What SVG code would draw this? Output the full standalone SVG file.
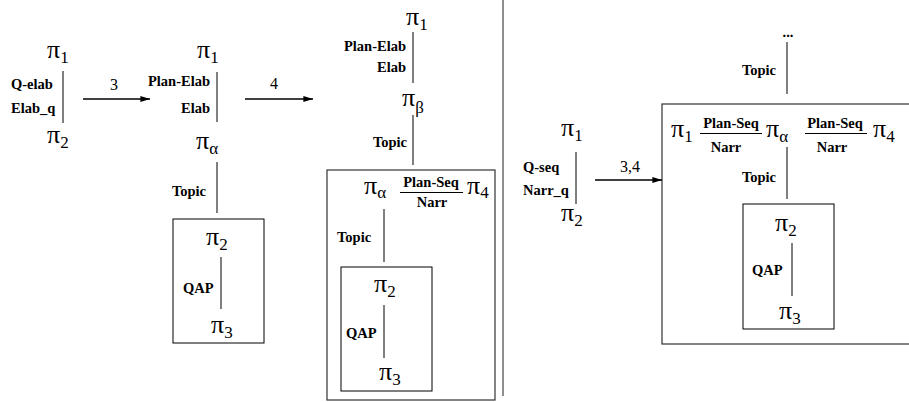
<svg xmlns="http://www.w3.org/2000/svg" width="909" height="402" viewBox="0 0 909 402">
<style>
text{font-family:"Liberation Serif","Times New Roman",serif;fill:#000}
.pi{font-size:26px}
.sub{font-size:17px}
.lb{font-size:14.5px;font-weight:bold}
.num{font-size:16px}
.e{stroke:#000;stroke-width:1;fill:none}
.arr{stroke:#000;stroke-width:1.6;fill:none;marker-end:url(#ah)}
.box{stroke:#333;stroke-width:1.2;fill:none}
.ibox{stroke:#000;stroke-width:1;fill:none}
.end{text-anchor:end}
.mid{text-anchor:middle}
</style>
<defs>
<marker id="ah" viewBox="0 0 10 6" refX="10" refY="3" markerWidth="6" markerHeight="4" markerUnits="strokeWidth" orient="auto">
<path d="M0,0 L10,3 L0,6 z" fill="#000"/>
</marker>
</defs>
<rect width="909" height="402" fill="#fff"/>

<!-- Stage 1 -->
<g id="s1-pi1"><text class="pi" x="47" y="58">π<tspan class="sub" dy="5">1</tspan></text></g>
<g id="s1-pi2"><text class="pi" x="47" y="143">π<tspan class="sub" dy="5">2</tspan></text></g>

<!-- Stage 2 -->
<g id="s2-pi1"><text class="pi" x="197" y="58">π<tspan class="sub" dy="5">1</tspan></text></g>
<g id="s2-pialpha"><text class="pi" x="196" y="149">π<tspan class="sub" dy="5">α</tspan></text></g>
<g id="s2-box"><rect class="ibox" x="173" y="219" width="91" height="124"/>
<text class="pi" x="206" y="245">π<tspan class="sub" dy="5">2</tspan></text>
<text class="pi" x="211" y="333">π<tspan class="sub" dy="5">3</tspan></text></g>

<!-- Stage 3 -->
<g id="s3-pi1"><text class="pi" x="406" y="25">π<tspan class="sub" dy="5">1</tspan></text></g>
<g id="s3-pibeta"><text class="pi" x="402" y="106">π<tspan class="sub" dy="7">β</tspan></text></g>
<g id="s3-outer"><rect class="box" x="327" y="170" width="168" height="230"/>
<text class="pi" x="364" y="194">π<tspan class="sub" dy="4">α</tspan></text>
<text class="pi" x="467" y="194">π<tspan class="sub" dy="4">4</tspan></text></g>
<g id="s3-inner"><rect class="ibox" x="341" y="267" width="91" height="124"/>
<text class="pi" x="374" y="292">π<tspan class="sub" dy="5">2</tspan></text>
<text class="pi" x="379" y="380">π<tspan class="sub" dy="5">3</tspan></text></g>

<!-- Separator -->
<line x1="503" y1="0" x2="503" y2="396" stroke="#444" stroke-width="1.2"/>

<!-- Stage 4 -->
<g id="s4-pi1"><text class="pi" x="561" y="136">π<tspan class="sub" dy="5">1</tspan></text></g>
<g id="s4-pi2"><text class="pi" x="561" y="221">π<tspan class="sub" dy="5">2</tspan></text></g>

<!-- Stage 5 -->
<g id="s5-dots"><text class="lb mid" x="788" y="37">...</text></g>
<g id="s5-outer"><rect class="box" x="662" y="104" width="280" height="240"/>
<text class="pi" x="671" y="137">π<tspan class="sub" dy="5">1</tspan></text>
<text class="pi" x="766" y="137">π<tspan class="sub" dy="5">α</tspan></text>
<text class="pi" x="873" y="137">π<tspan class="sub" dy="5">4</tspan></text></g>
<g id="s5-inner"><rect class="ibox" x="743" y="204" width="91" height="125"/>
<text class="pi" x="775" y="231">π<tspan class="sub" dy="5">2</tspan></text>
<text class="pi" x="779" y="319">π<tspan class="sub" dy="5">3</tspan></text></g>

<g id="connectors">
<!-- stage 1 -->
<line class="e" x1="63" y1="71" x2="63" y2="123"/>
<text class="lb" x="11" y="89">Q-elab</text>
<text class="lb" x="11" y="113">Elab_q</text>
<line class="arr" x1="83" y1="99" x2="150" y2="99"/>
<text class="num" x="110" y="90">3</text>
<!-- stage 2 -->
<line class="e" x1="217" y1="72" x2="217" y2="122"/>
<text class="lb end" x="210" y="86">Plan-Elab</text>
<text class="lb end" x="210" y="113">Elab</text>
<line class="e" x1="217" y1="162" x2="217" y2="213"/>
<text class="lb end" x="206" y="196">Topic</text>
<line class="e" x1="221" y1="257" x2="221" y2="309"/>
<text class="lb" x="183" y="293">QAP</text>
<line class="arr" x1="245" y1="99" x2="313" y2="99"/>
<text class="num" x="270" y="89">4</text>
<!-- stage 3 -->
<line class="e" x1="413" y1="32" x2="413" y2="83"/>
<text class="lb end" x="406" y="51">Plan-Elab</text>
<text class="lb end" x="406" y="72">Elab</text>
<line class="e" x1="413" y1="115" x2="413" y2="165"/>
<text class="lb end" x="407" y="147">Topic</text>
<text class="lb mid" x="431" y="187">Plan-Seq</text>
<line class="e" x1="400" y1="192.5" x2="463" y2="192.5"/>
<text class="lb mid" x="432" y="207">Narr</text>
<line class="e" x1="384" y1="209" x2="384" y2="262"/>
<text class="lb" x="337" y="242">Topic</text>
<line class="e" x1="384" y1="305" x2="384" y2="358"/>
<text class="lb" x="346" y="338">QAP</text>
<!-- stage 4 -->
<line class="e" x1="576" y1="152" x2="576" y2="204"/>
<text class="lb" x="523" y="172">Q-seq</text>
<text class="lb" x="523" y="195">Narr_q</text>
<line class="arr" x1="595" y1="180" x2="662" y2="180"/>
<text class="num" x="620" y="172">3,4</text>
<!-- stage 5 -->
<line class="e" x1="787" y1="42" x2="787" y2="94"/>
<text class="lb end" x="776" y="75">Topic</text>
<text class="lb mid" x="731" y="128">Plan-Seq</text>
<line class="e" x1="700" y1="133.5" x2="762" y2="133.5"/>
<text class="lb mid" x="726" y="152">Narr</text>
<text class="lb mid" x="835" y="128">Plan-Seq</text>
<line class="e" x1="805" y1="133.5" x2="867" y2="133.5"/>
<text class="lb mid" x="832" y="152">Narr</text>
<line class="e" x1="787" y1="147" x2="787" y2="199"/>
<text class="lb end" x="776" y="182">Topic</text>
<line class="e" x1="792" y1="243" x2="792" y2="296"/>
<text class="lb" x="752" y="275">QAP</text>
</g>
</svg>
